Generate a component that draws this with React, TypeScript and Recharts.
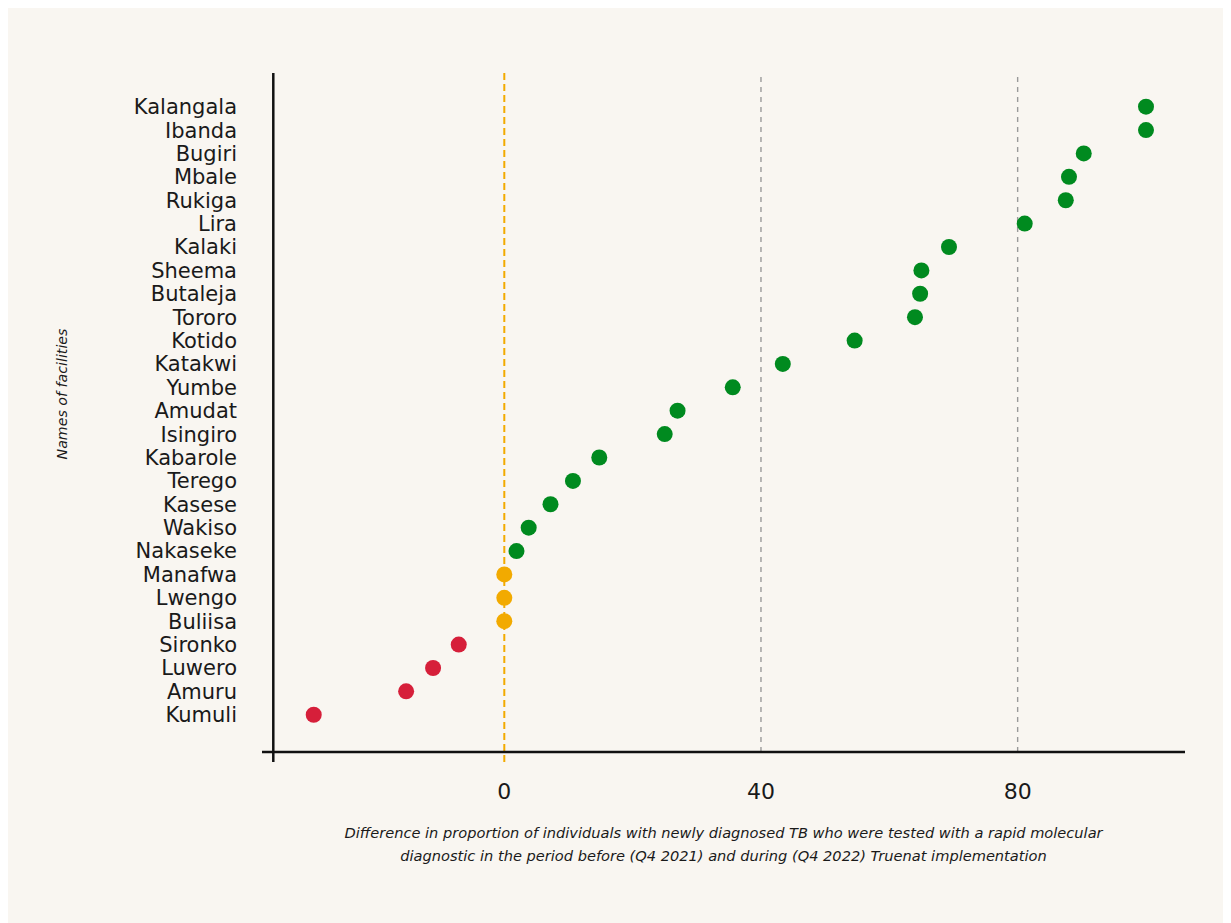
import React from "react";
import { ScatterChart, Scatter, XAxis, YAxis, ReferenceLine, Cell, Label } from "recharts";

// Facilities listed from bottom (index 0) to top
const facilities: string[] = [
  "Kumuli", "Amuru", "Luwero", "Sironko", "Buliisa", "Lwengo", "Manafwa",
  "Nakaseke", "Wakiso", "Kasese", "Terego", "Kabarole", "Isingiro", "Amudat",
  "Yumbe", "Katakwi", "Kotido", "Tororo", "Butaleja", "Sheema", "Kalaki",
  "Lira", "Rukiga", "Mbale", "Bugiri", "Ibanda", "Kalangala",
];

const differences: number[] = [
  -29.7, -15.3, -11.1, -7.1, 0, 0, 0,
  1.9, 3.8, 7.2, 10.7, 14.8, 25.0, 27.0,
  35.6, 43.4, 54.6, 64.0, 64.8, 65.0, 69.3,
  81.1, 87.5, 88.0, 90.3, 100, 100,
];

const xTicks: number[] = [0, 40, 80];

const xTitleLines: string[] = [
  "Difference in proportion of individuals with newly diagnosed TB who were tested with a rapid molecular",
  "diagnostic in the period before (Q4 2021) and during (Q4 2022) Truenat implementation",
];
const yTitle = "Names of facilities";

const data = facilities.map((name, i) => ({ name, x: differences[i], y: i }));
const yTicks = facilities.map((_, i) => i);

const FONT = "'DejaVu Sans', sans-serif";
const GREEN = "#008a1f";
const RED = "#d61f3a";
const ORANGE = "#f2aa00";

const X_DOMAIN: [number, number] = [-37.76, 106.08];
const Y_DOMAIN: [number, number] = [-2.02, 27.44];
const AXIS_Y = -1.595;
const AXIS_X = -36.0;

const colorFor = (v: number) => (v > 0 ? GREEN : v < 0 ? RED : ORANGE);

const Dot = (props: any) => {
  const { cx, cy, fill } = props;
  if (cx == null || cy == null) return null;
  return <circle cx={cx} cy={cy} r={8} fill={fill} />;
};

const XTitle = (props: any) => {
  const vb = props.viewBox || {};
  const cx = vb.x + vb.width / 2;
  return (
    <text
      x={cx}
      y={vb.y + 76}
      textAnchor="middle"
      fontFamily={FONT}
      fontStyle="italic"
      fontSize={14.6}
      fill="#1a1a1a"
    >
      <tspan x={cx} dy={0}>{xTitleLines[0]}</tspan>
      <tspan x={cx} dy={23}>{xTitleLines[1]}</tspan>
    </text>
  );
};

const YTitle = (props: any) => {
  const vb = props.viewBox || {};
  const x = vb.x + 0;
  const y = 386;
  return (
    <text
      x={x}
      y={y}
      textAnchor="middle"
      dominantBaseline="central"
      transform={`rotate(-90, ${x}, ${y})`}
      fontFamily={FONT}
      fontStyle="italic"
      fontSize={14.2}
      fill="#1a1a1a"
    >
      {yTitle}
    </text>
  );
};

export default function App() {
  return (
    <div style={{ width: 1223, height: 915, background: "#f9f6f1" }}>
      <ScatterChart
        width={1223}
        height={915}
        margin={{ top: 65, right: 46, bottom: 101, left: 54 }}
      >
        <XAxis
          type="number"
          dataKey="x"
          domain={X_DOMAIN}
          allowDataOverflow
          ticks={xTicks}
          interval={0}
          axisLine={false}
          tickLine={false}
          tickSize={0}
          tickMargin={21}
          height={60}
          tick={{ fontSize: 22, fill: "#1a1a1a", fontFamily: FONT }}
        >
          <Label content={XTitle} />
        </XAxis>
        <YAxis
          type="number"
          dataKey="y"
          domain={Y_DOMAIN}
          allowDataOverflow
          ticks={yTicks}
          interval={0}
          tickFormatter={(i: number) => facilities[i] ?? ""}
          axisLine={false}
          tickLine={false}
          tickSize={0}
          tickMargin={25}
          width={200}
          tick={{ fontSize: 21, fill: "#1a1a1a", fontFamily: FONT }}
        >
          <Label content={YTitle} />
        </YAxis>

        {[40, 80].map((v) => (
          <ReferenceLine
            key={v}
            segment={[{ x: v, y: AXIS_Y }, { x: v, y: Y_DOMAIN[1] }]}
            stroke="#9a9a9a"
            strokeWidth={1.4}
            strokeDasharray="5 5"
          />
        ))}
        <ReferenceLine
          segment={[{ x: 0, y: Y_DOMAIN[0] }, { x: 0, y: Y_DOMAIN[1] }]}
          stroke={ORANGE}
          strokeWidth={2}
          strokeDasharray="7 4"
        />
        <ReferenceLine
          segment={[{ x: X_DOMAIN[0], y: AXIS_Y }, { x: X_DOMAIN[1], y: AXIS_Y }]}
          stroke="#111111"
          strokeWidth={2.5}
        />
        <ReferenceLine
          segment={[{ x: AXIS_X, y: Y_DOMAIN[0] }, { x: AXIS_X, y: Y_DOMAIN[1] }]}
          stroke="#111111"
          strokeWidth={2.5}
        />

        <Scatter data={data} isAnimationActive={false} shape={Dot}>
          {data.map((d, i) => (
            <Cell key={i} fill={colorFor(d.x)} />
          ))}
        </Scatter>
      </ScatterChart>
    </div>
  );
}
